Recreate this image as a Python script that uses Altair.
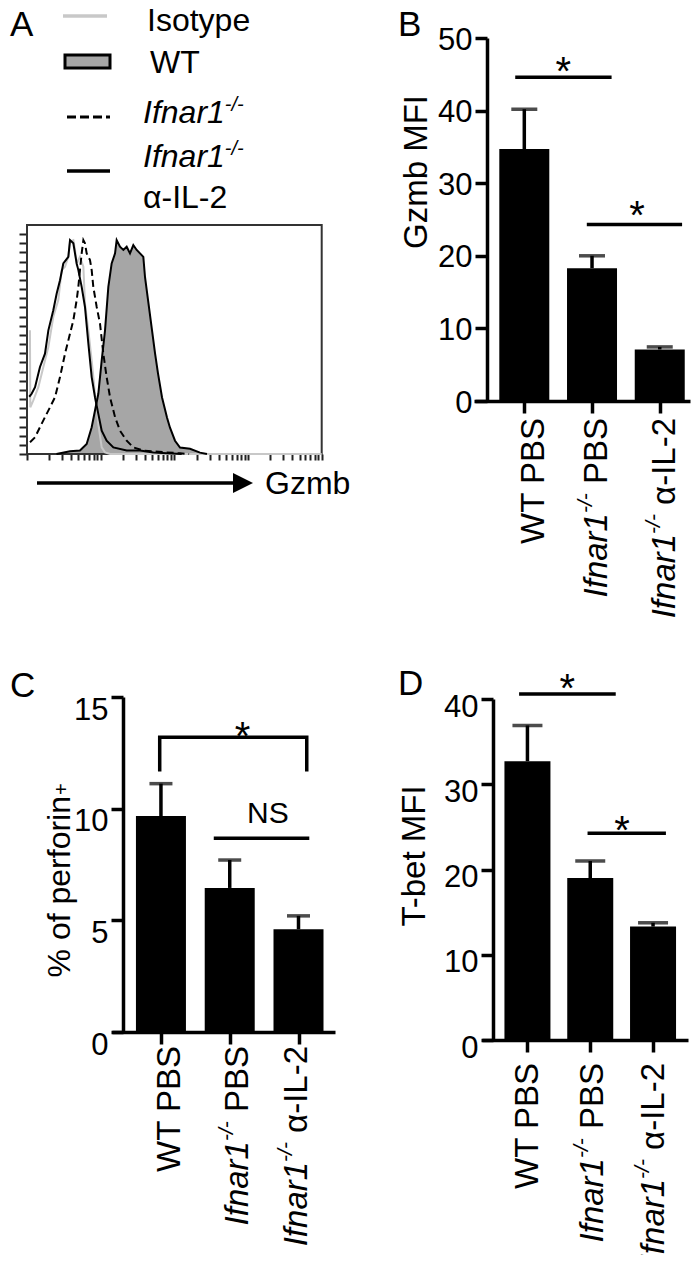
import altair as alt
import pandas as pd

FONT = "Liberation Sans"
W, H = 684, 1247          # whole drawing (page minus 8px margins)
M = 8


def px(v):
    """page pixel -> chart pixel"""
    return v - M


# ------------------------------------------------------------------ data
categories = ["WT PBS", "Ifnar1-/- PBS", "Ifnar1-/- α-IL-2"]
category_parts = [
    [("WT PBS", "n")],
    [("Ifnar1", "i"), ("-/-", "s"), (" PBS", "n")],
    [("Ifnar1", "i"), ("-/-", "s"), (" α-IL-2", "n")],
]

gzmb_mean = [34.7, 18.3, 7.1]
gzmb_sem = [5.5, 1.7, 0.35]
perforin_mean = [9.67, 6.45, 4.6]
perforin_sem = [1.45, 1.25, 0.6]
tbet_mean = [32.7, 19.0, 13.3]
tbet_sem = [4.2, 2.0, 0.45]

gzmb_ticks = [0, 10, 20, 30, 40, 50]
perforin_ticks = [0, 5, 10, 15]
tbet_ticks = [0, 10, 20, 30, 40]

# significance annotations (x in group index units, y in data units)
gzmb_sig_x1 = [-0.134, 0.923]
gzmb_sig_x2 = [1.289, 2.33]
gzmb_sig_y = [44.6, 24.3]
gzmb_star_x = [0.575, 1.665]
gzmb_star_y = [46.7, 26.9]

tbet_sig_x1 = [-0.133, 0.957]
tbet_sig_x2 = [1.406, 2.205]
tbet_sig_y = [40.6, 24.25]
tbet_star_x = [0.633, 1.508]
tbet_star_y = [42.4, 25.7]

perforin_bracket_x = [-0.018, -0.018, 2.12, 2.12]
perforin_bracket_y = [11.66, 13.2, 13.2, 11.66]
perforin_star_x = [1.185]
perforin_star_y = [13.67]
perforin_ns_x1 = [0.768]
perforin_ns_x2 = [2.157]
perforin_ns_y = [8.67]
perforin_ns_tx = [1.556]
perforin_ns_ty = [9.85]

# histogram (panel A): log10 Gzmb intensity, % of max
iso_log = [0.040, 0.045, 0.086, 0.154, 0.222, 0.290, 0.357, 0.425, 0.471, 0.516,
           0.561, 0.584, 0.629, 0.652, 0.674, 0.719, 0.765, 0.787, 0.833, 0.878,
           0.923, 0.968, 1.014, 1.059, 1.127, 4.0]
iso_pct = [54.0, 20.4, 23.4, 29.2, 38.0, 46.7, 59.9, 67.2, 80.3, 81.8,
           86.1, 92.7, 93.4, 89.1, 83.2, 86.1, 81.8, 65.7, 54.0, 40.9,
           26.3, 13.1, 2.9, 0.7, 0.0, 0.0]

il2_log = [0.03, 0.063, 0.109, 0.176, 0.244, 0.290, 0.357, 0.403, 0.448, 0.493,
           0.561, 0.584, 0.629, 0.674, 0.697, 0.742, 0.787, 0.833, 0.878, 0.923,
           0.968, 1.014, 1.081, 1.172, 1.353, 1.534, 1.715, 1.896, 2.10]
il2_pct = [25.0, 26.3, 29.2, 38.0, 43.8, 54.0, 62.8, 70.1, 75.9, 83.2,
           86.1, 93.4, 92.0, 83.2, 80.3, 73.0, 64.2, 48.2, 33.6, 24.8,
           17.5, 10.2, 5.8, 2.9, 1.5, 1.5, 0.7, 0.3, 0.0]

ko_log = [0.041, 0.109, 0.176, 0.244, 0.312, 0.380, 0.448, 0.516, 0.584, 0.629,
          0.674, 0.697, 0.719, 0.742, 0.765, 0.787, 0.810, 0.855, 0.878, 0.900,
          0.946, 0.991, 1.036, 1.081, 1.127, 1.195, 1.262, 1.353, 1.443, 1.579,
          1.715, 1.896, 2.077, 2.20]
ko_pct = [5.1, 7.3, 11.7, 16.1, 20.4, 24.8, 33.6, 43.8, 52.6, 58.4,
          67.2, 73.0, 80.3, 87.6, 93.4, 92.0, 87.6, 84.7, 80.3, 73.0,
          64.2, 56.9, 43.8, 33.6, 24.8, 16.1, 10.2, 5.8, 2.9, 1.5,
          1.2, 0.7, 0.3, 0.0]

wt_log = [0.40, 0.584, 0.719, 0.810, 0.878, 0.923, 0.968, 1.014, 1.059, 1.104,
          1.149, 1.195, 1.217, 1.262, 1.308, 1.353, 1.398, 1.443, 1.489, 1.534,
          1.579, 1.602, 1.643, 1.697, 1.738, 1.778, 1.833, 1.900, 1.941, 2.009,
          2.077, 2.213, 2.348, 2.443]
wt_pct = [0.0, 1.2, 1.5, 4.4, 11.7, 19.0, 26.3, 40.9, 54.0, 73.0,
          83.2, 87.6, 93.4, 90.5, 89.1, 90.5, 87.6, 91.2, 89.1, 87.6,
          86.1, 77.2, 67.2, 54.0, 43.9, 35.2, 24.7, 15.9, 11.5, 5.8,
          2.8, 2.3, 0.6, 0.0]

hist_x_ticks = [k * 10 ** d for d in range(4) for k in range(1, 10)] + [10000]
hist_y_ticks = list(range(0, 100, 4))

legend_labels = ["Isotype", "WT", "Ifnar1", "Ifnar1"]

# ------------------------------------------------------------------ layout (page px)
LAYOUT = {
    "B": dict(x_px=(474, 690), x_dom=(-0.669, 2.373), y_px=(401, 38), y_dom=(0, 50),
              ticks=gzmb_ticks, axis_x=487, bar_w=50, cap_w=26, lab_end=418,
              lab_dy=[20, 15, 15], lab_off=2),
    "C": dict(x_px=(112, 335), x_dom=(-0.639, 2.458), y_px=(1032, 697), y_dom=(0, 15),
              ticks=perforin_ticks, axis_x=123, bar_w=50, cap_w=23, lab_end=1046,
              lab_dy=[19, 18, 8], lab_off=13),
    "D": dict(x_px=(482, 688), x_dom=(-0.644, 2.477), y_px=(1040, 699), y_dom=(0, 40),
              ticks=tbet_ticks, axis_x=493, bar_w=46, cap_w=30, lab_end=1063,
              lab_dy=[11, 13, 11], lab_off=8),
}

ARIAL = {' ': 0.278, '-': 0.333, '/': 0.278, 'I': 0.278, 'f': 0.278, 'n': 0.556,
         'a': 0.556, 'r': 0.333, '1': 0.556, 'P': 0.667, 'B': 0.667, 'S': 0.667,
         'W': 0.944, 'T': 0.611, 'L': 0.556, '2': 0.556, 'α': 0.578}


def tw(s, f):
    return sum(ARIAL.get(c, 0.556) for c in s) * f


ONE = pd.DataFrame({"k": [0]})
STROKE = 3.5
XLF, SUPF, SUPSHIFT = 33, 21, 15
STARF = 40


def note(s, x, y, size, **kw):
    props = dict(text=s, font=FONT, fontSize=size, color="black", align="left",
                 baseline="alphabetic")
    props.update(kw)
    return alt.Chart(ONE).mark_text(**props).encode(x=alt.value(px(x)), y=alt.value(px(y)))


def hline(x1, x2, y, color, width, dash=None):
    kw = dict(color=color, strokeWidth=width)
    if dash:
        kw["strokeDash"] = dash
    return alt.Chart(ONE).mark_rule(**kw).encode(
        x=alt.value(px(x1)), x2=alt.value(px(x2)), y=alt.value(px(y)))


# ------------------------------------------------------------------ bar panels
def sig_rules(x1, x2, y):
    df = pd.DataFrame({"x1": x1, "x2": x2, "y": y})

    def build(X, Y):
        return alt.Chart(df).mark_rule(color="black", strokeWidth=STROKE).encode(
            x=X("x1:Q"), x2="x2:Q", y=Y("y:Q"))
    return build


def sig_text(xv, yv, labels, size, dy):
    df = pd.DataFrame({"tx": xv, "ty": yv, "t": labels})

    def build(X, Y):
        return alt.Chart(df).mark_text(font=FONT, fontSize=size, color="black",
                                       baseline="middle", align="center", dy=dy).encode(
            x=X("tx:Q"), y=Y("ty:Q"), text="t:N")
    return build


def bracket(xv, yv):
    df = pd.DataFrame({"bx": xv, "by": yv, "o": list(range(len(xv)))})

    def build(X, Y):
        return alt.Chart(df).mark_line(color="black", strokeWidth=STROKE,
                                       strokeJoin="miter").encode(
            x=X("bx:Q"), y=Y("by:Q"), order="o:Q")
    return build


def bar_panel(L, mean, sem, extras):
    xs = alt.Scale(domain=list(L["x_dom"]), range=[px(L["x_px"][0]), px(L["x_px"][1])],
                   nice=False, zero=False)
    ys = alt.Scale(domain=list(L["y_dom"]), range=[px(L["y_px"][0]), px(L["y_px"][1])],
                   nice=False, zero=False)
    n = len(categories)
    df = pd.DataFrame({"pos": list(range(n)), "cat": categories, "val": mean,
                       "hi": [m + s for m, s in zip(mean, sem)]})
    x_axis = alt.Axis(orient="bottom", offset=px(L["y_px"][0]) - H, values=list(range(n)),
                      labels=False, title=None, grid=False, tickSize=12, tickWidth=STROKE,
                      tickColor="black", domainWidth=STROKE, domainColor="black")
    y_axis = alt.Axis(orient="left", offset=-px(L["axis_x"]), values=L["ticks"], title=None,
                      grid=False, tickSize=12, tickWidth=STROKE, tickColor="black",
                      domainWidth=STROKE, domainColor="black", labelFont=FONT,
                      labelFontSize=31, labelColor="black", labelPadding=3,
                      labelOffset=L["lab_off"])

    def X(f):
        return alt.X(f, scale=xs, axis=x_axis)

    def Y(f):
        return alt.Y(f, scale=ys, axis=y_axis, stack=None)

    bars = alt.Chart(df).mark_bar(size=L["bar_w"], color="black", orient="vertical").encode(
        x=X("pos:Q"), y=Y("val:Q"))
    err = alt.Chart(df).mark_rule(color="black", strokeWidth=STROKE).encode(
        x=X("pos:Q"), y=Y("val:Q"), y2="hi:Q")
    caps = alt.Chart(df).mark_tick(orient="horizontal", size=L["cap_w"], thickness=STROKE,
                                   color="black").encode(x=X("pos:Q"), y=Y("hi:Q"))
    layers = [bars, err, caps]

    # rotated category labels with italic gene name and superscript
    for i, parts in enumerate(category_parts):
        widths = [tw(t, SUPF if s == "s" else XLF) for t, s in parts]
        for j, (t, s) in enumerate(parts):
            sup = s == "s"
            kw = dict(angle=270, align="right", baseline="alphabetic", font=FONT,
                      fontSize=SUPF if sup else XLF,
                      fontStyle="italic" if s in ("i", "s") else "normal",
                      dy=L["lab_dy"][i] - (SUPSHIFT if sup else 0), color="black")
            dx = -sum(widths[j + 1:])
            if dx:
                kw["dx"] = dx
            d = pd.DataFrame({"pos": [i], "t": [t]})
            layers.append(alt.Chart(d).mark_text(**kw).encode(
                x=X("pos:Q"), y=alt.value(px(L["lab_end"])), text="t:N"))
    layers += [f(X, Y) for f in extras]
    return alt.layer(*layers)


panel_b = bar_panel(LAYOUT["B"], gzmb_mean, gzmb_sem, [
    sig_rules(gzmb_sig_x1, gzmb_sig_x2, gzmb_sig_y),
    sig_text(gzmb_star_x, gzmb_star_y, ["*", "*"], STARF, 11),
])
panel_c = bar_panel(LAYOUT["C"], perforin_mean, perforin_sem, [
    bracket(perforin_bracket_x, perforin_bracket_y),
    sig_text(perforin_star_x, perforin_star_y, ["*"], STARF, 11),
    sig_rules(perforin_ns_x1, perforin_ns_x2, perforin_ns_y),
    sig_text(perforin_ns_tx, perforin_ns_ty, ["NS"], 30, 2),
])
panel_d = bar_panel(LAYOUT["D"], tbet_mean, tbet_sem, [
    sig_rules(tbet_sig_x1, tbet_sig_x2, tbet_sig_y),
    sig_text(tbet_star_x, tbet_star_y, ["*", "*"], STARF, 11),
])

# ------------------------------------------------------------------ histogram (panel A)
HX = alt.Scale(type="log", domain=[1, 10000], range=[px(27), px(321.7)], nice=False)
HY = alt.Scale(domain=[0, 100], range=[px(454), px(225)], nice=False, zero=False)
hx_axis = alt.Axis(orient="bottom", offset=px(454) - H, values=hist_x_ticks, labels=False,
                   title=None, grid=False, domain=False, tickSize=6, tickWidth=2,
                   tickColor="#222222")
hy_axis = alt.Axis(orient="left", offset=-px(27), values=hist_y_ticks, labels=False,
                   title=None, grid=False, domain=False, tickSize=8, tickWidth=2,
                   tickColor="#222222")


def HXe(f):
    return alt.X(f, scale=HX, axis=hx_axis)


def HYe(f):
    return alt.Y(f, scale=HY, axis=hy_axis, stack=None)


def curve_df(logs, pcts):
    return pd.DataFrame({"gz": [10 ** v for v in logs], "pct": pcts})


frame_df = pd.DataFrame({"g0": [1], "g1": [10000], "p0": [0], "p1": [100]})
frame = alt.Chart(frame_df).mark_rect(fillOpacity=0, stroke="#333333", strokeWidth=2).encode(
    x=HXe("g0:Q"), x2="g1:Q", y=HYe("p0:Q"), y2="p1:Q")


def hist_line(logs, pcts, **kw):
    return alt.Chart(curve_df(logs, pcts)).mark_line(**kw).encode(
        x=HXe("gz:Q"), y=HYe("pct:Q"))


wt_area = alt.Chart(curve_df(wt_log, wt_pct)).mark_area(color="#a6a6a6", orient="vertical").encode(
    x=HXe("gz:Q"), y=HYe("pct:Q"))

hist = alt.layer(
    wt_area,
    frame,
    hist_line(iso_log, iso_pct, color="#c8c8c8", strokeWidth=2),
    hist_line(wt_log, wt_pct, color="black", strokeWidth=2),
    hist_line(ko_log, ko_pct, color="black", strokeWidth=2, strokeDash=[7, 4]),
    hist_line(il2_log, il2_pct, color="black", strokeWidth=2),
)

# ------------------------------------------------------------------ annotations
annotations = [
    # panel letters
    note("A", 10, 36, 35), note("B", 398, 36, 35), note("C", 10, 697, 35), note("D", 398, 695, 35),
    # legend
    hline(63, 107, 16, "#c8c8c8", 3.5),
    note(legend_labels[0], 147, 31, 32),
    alt.Chart(ONE).mark_rect(fill="#a6a6a6", stroke="black", strokeWidth=3).encode(
        x=alt.value(px(65)), x2=alt.value(px(110)), y=alt.value(px(55)), y2=alt.value(px(68))),
    note(legend_labels[1], 150, 73, 32),
    hline(67, 110, 117, "black", 3, [9, 4]),
    note(legend_labels[2], 143, 123, 32, fontStyle="italic"),
    note("-/-", 143 + tw("Ifnar1", 32), 111, 20, fontStyle="italic"),
    hline(67, 110, 171, "black", 3.5),
    note(legend_labels[3], 143, 167, 32, fontStyle="italic"),
    note("-/-", 143 + tw("Ifnar1", 32), 155, 20, fontStyle="italic"),
    note("α-IL-2", 143, 208, 32),
    # histogram arrow
    hline(37, 234, 483, "black", 3.5),
    alt.Chart(ONE).mark_point(shape="M -1 -1 L 1 0 L -1 1 Z", size=400, filled=True,
                              color="black", opacity=1).encode(
        x=alt.value(px(243)), y=alt.value(px(483))),
    note("Gzmb", 265, 494, 32),
    # y-axis titles
    note("Gzmb MFI", 427, 172, 33, angle=270, align="center"),
    note("T-bet MFI", 425, 856, 33, angle=270, align="center"),
    note("% of perforin", 70, 796, 32, angle=270, align="right"),
    note("+", 70, 795, 20, angle=270, align="left", dy=-2),
]

chart = alt.layer(hist, panel_b, panel_c, panel_d, *annotations).resolve_scale(
    x="independent", y="independent"
).resolve_axis(
    x="independent", y="independent"
).properties(
    width=W, height=H, padding=0, autosize=alt.AutoSizeParams(type="none")
).configure_view(stroke=None).configure_axis(grid=False)

chart.save("out.html", embed_options={"renderer": "svg", "actions": False})
